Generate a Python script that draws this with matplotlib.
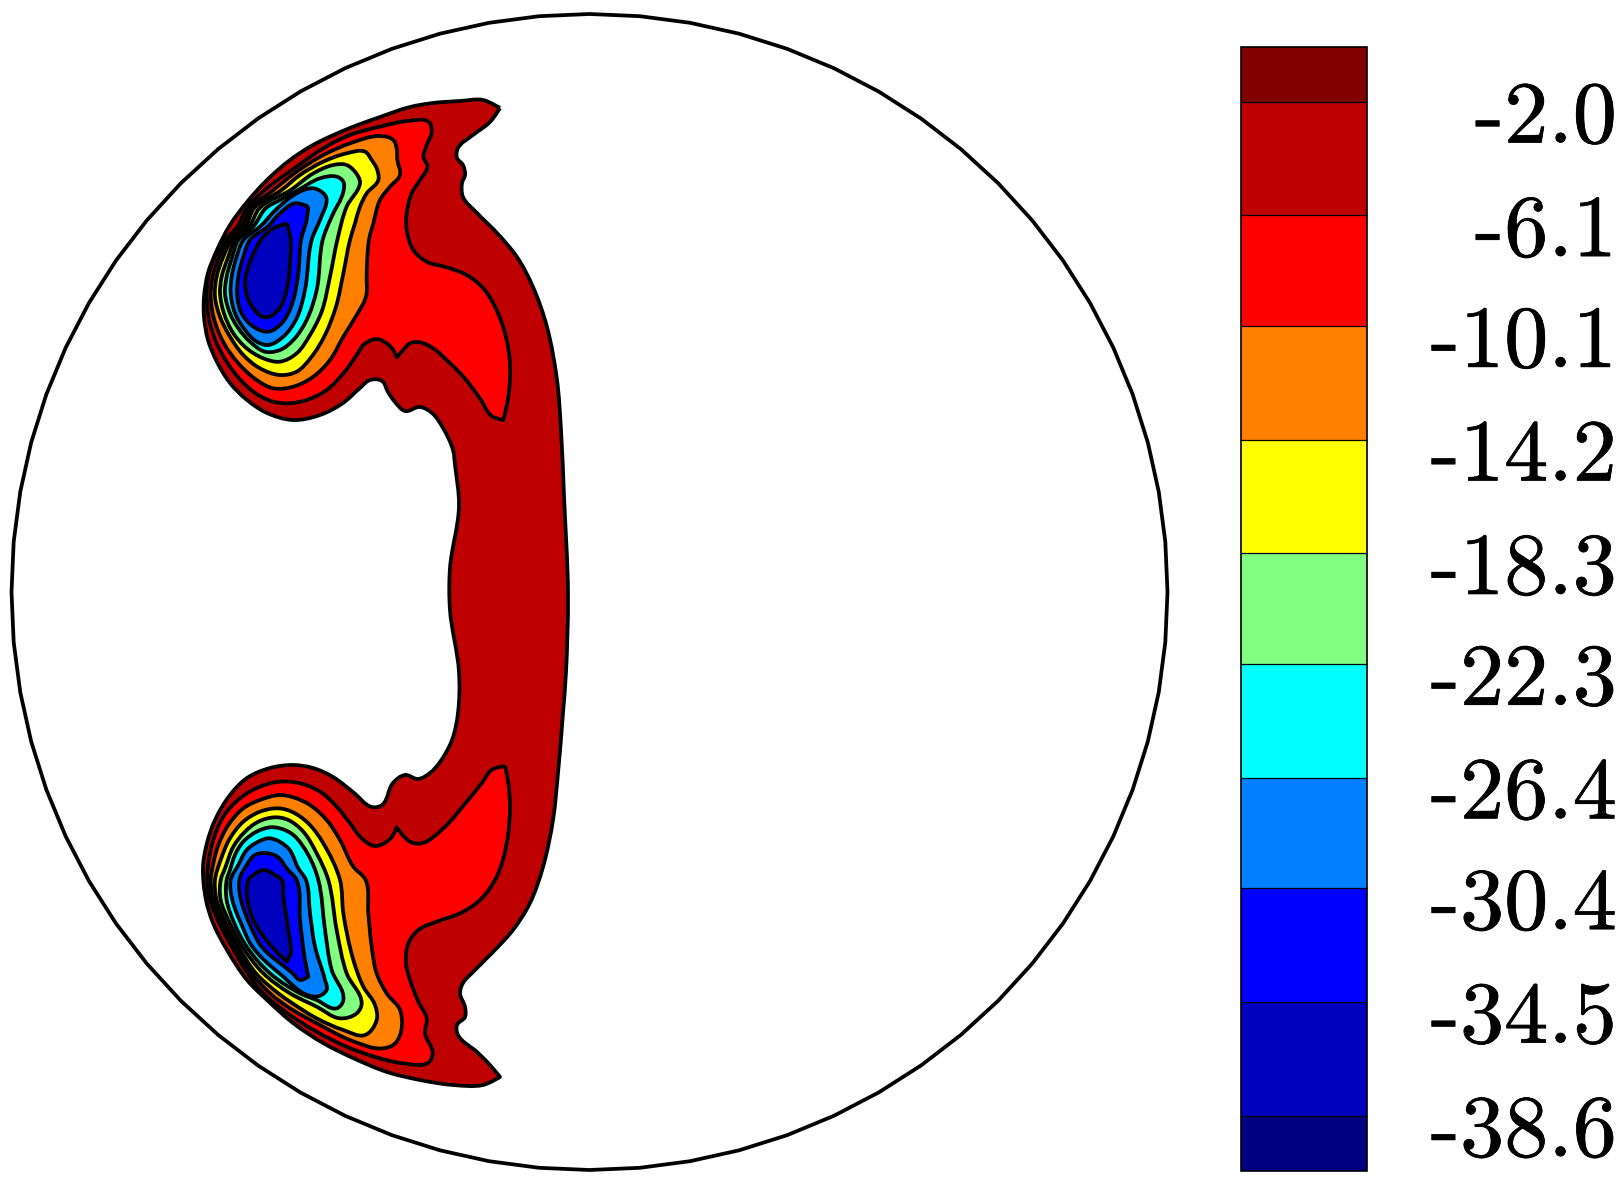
import numpy as np
import matplotlib
matplotlib.use("Agg")
import matplotlib.pyplot as plt
import matplotlib.patheffects as pe
from matplotlib.cm import ScalarMappable
from matplotlib.colors import BoundaryNorm, ListedColormap
from matplotlib.patches import PathPatch, RegularPolygon
from matplotlib.path import Path

# Contour levels and colours, bottom of the colour bar first
levels = [-38.6, -34.5, -30.4, -26.4, -22.3, -18.3, -14.2, -10.1, -6.1, -2.0]
tick_labels = ["-38.6", "-34.5", "-30.4", "-26.4", "-22.3", "-18.3", "-14.2", "-10.1", "-6.1", "-2.0"]
bounds = [-40.6] + levels + [0.0]
colors = ["#000080", "#0000BF", "#0000FF", "#0080FF", "#00FFFF", "#80FF80",
          "#FFFF00", "#FF8000", "#FF0000", "#BF0000", "#800000"]

# Domain, in image pixels
center = (589.5, 592.0)
radius = 578.0

# Outline of the -2.0 contour, image pixels
outer_x = [500, 483, 460, 433, 410, 380, 350, 313, 290, 267, 247, 230, 217, 208, 204, 204, 208, 217, 230, 247, 267,
           293, 320, 343, 360, 370, 382, 388, 395, 405, 420, 432, 443, 453, 455, 459, 450, 450, 459, 458, 452, 440,
           430, 418, 405, 393, 382, 372, 353, 333, 313, 293, 270, 247, 230, 215, 207, 203, 206, 213, 227, 247, 267, 293,
           323, 353, 387, 420, 453, 483, 500, 490, 477, 458, 457, 465, 465, 460, 463, 473, 493, 513, 530, 543, 553, 558,
           563, 566, 568, 564, 561, 557, 547, 533, 517, 497, 477, 463, 462, 465, 463, 457, 458, 473, 490]
outer_y = [108, 100, 101, 103, 107, 117, 128, 145, 160, 180, 202, 225, 250, 273, 297, 317, 340, 362, 383, 400, 413,
           420, 415, 403, 388, 380, 381, 392, 402, 411, 407, 413, 428, 450, 465, 506, 568, 610, 672, 713, 740, 762,
           773, 779, 775, 783, 805, 807, 792, 777, 768, 765, 768, 778, 795, 820, 843, 867, 900, 923, 950, 980, 1000, 1023,
           1043, 1058, 1072, 1080, 1085, 1085, 1077, 1065, 1052, 1035, 1025, 1017, 1007, 993, 983, 972, 952, 930, 903, 867, 820, 773,
           713, 672, 594, 496, 430, 380, 327, 287, 257, 233, 213, 197, 183, 175, 165, 158, 148, 135, 122]

# Inner contours of the upper lobe, -6.1 down to -34.5
top_6_x = [745, 690, 600, 510, 430, 350, 255, 200, 172, 135, 105, 85, 80, 90, 120, 165, 220, 270, 320, 380, 440, 490, 530, 550, 590, 620, 640, 650, 665, 690, 720, 760, 800, 850, 900, 935, 970, 985, 990, 975, 945, 910, 860, 800, 740, 700, 680, 680, 695, 720, 742, 730, 740, 755]
top_6_y = [125, 122, 140, 165, 205, 260, 330, 385, 440, 480, 530, 590, 650, 730, 810, 880, 935, 962, 970, 960, 930, 880, 825, 795, 777, 790, 810, 832, 815, 790, 787, 805, 840, 890, 955, 1008, 1020, 950, 850, 760, 680, 625, 585, 562, 545, 510, 450, 400, 340, 300, 260, 230, 195, 155]
top_10_x = [640, 600, 510, 430, 350, 280, 212, 185, 145, 118, 98, 92, 103, 132, 175, 230, 280, 340, 400, 450, 490, 530, 558, 560, 567, 580, 600, 630, 660, 652, 650]
top_10_y = [180, 168, 190, 225, 275, 330, 385, 440, 480, 530, 590, 650, 720, 790, 850, 900, 925, 920, 890, 840, 770, 705, 650, 580, 480, 430, 360, 320, 285, 240, 205]
top_14_x = [575, 555, 500, 430, 360, 305, 222, 197, 155, 130, 110, 105, 120, 150, 190, 240, 300, 350, 395, 435, 468, 490, 510, 525, 540, 560, 595, 590]
top_14_y = [240, 215, 220, 245, 285, 330, 385, 440, 480, 530, 590, 650, 710, 770, 825, 865, 885, 875, 830, 765, 680, 580, 480, 430, 380, 340, 300, 265]
top_18_x = [535, 500, 460, 400, 332, 238, 208, 165, 145, 125, 120, 132, 160, 200, 250, 300, 350, 390, 425, 450, 472, 500, 540]
top_18_y = [290, 255, 255, 280, 330, 385, 440, 480, 530, 590, 640, 700, 760, 805, 835, 845, 820, 765, 695, 590, 480, 380, 310]
top_22_x = [490, 470, 420, 355, 300, 257, 220, 175, 157, 140, 135, 150, 175, 210, 255, 300, 340, 380, 410, 428, 455, 490]
top_22_y = [305, 290, 295, 330, 360, 385, 440, 480, 530, 590, 640, 700, 745, 785, 815, 810, 780, 720, 630, 480, 410, 335]
top_26_x = [435, 400, 350, 292, 240, 190, 170, 155, 152, 165, 195, 230, 265, 310, 350, 375, 395, 420, 440]
top_26_y = [345, 325, 340, 385, 440, 480, 530, 590, 640, 700, 750, 785, 795, 770, 715, 630, 480, 420, 360]
top_30_x = [385, 345, 300, 263, 210, 190, 175, 172, 185, 220, 265, 305, 335, 355, 363, 380]
top_30_y = [380, 370, 400, 440, 480, 530, 590, 650, 700, 740, 755, 730, 675, 580, 480, 420]
top_34_x = [322, 280, 250, 230, 205, 195, 210, 255, 295, 320, 332, 332]
top_34_y = [430, 445, 470, 500, 560, 610, 670, 712, 690, 630, 520, 480]

# Inner contours of the lower lobe
bot_6_x = [975, 935, 905, 860, 790, 725, 690, 650, 632, 585, 545, 510, 470, 420, 360, 300, 240, 180, 130, 100, 85, 82, 90, 118, 155, 203, 250, 330, 410, 500, 600, 670, 745, 758, 735, 740, 715, 690, 678, 685, 715, 770, 840, 900, 950, 980, 990, 985]
bot_6_y = [78, 90, 130, 185, 265, 310, 305, 262, 295, 318, 295, 250, 200, 155, 130, 125, 140, 175, 230, 300, 370, 420, 480, 550, 620, 700, 760, 825, 875, 920, 955, 970, 968, 940, 880, 835, 785, 720, 670, 610, 570, 545, 520, 480, 410, 310, 200, 130]
bot_10_x = [300, 245, 190, 145, 115, 100, 92, 100, 128, 165, 215, 270, 330, 420, 510, 610, 650, 662, 620, 590, 575, 565, 557, 520, 480, 440, 390, 340]
bot_10_y = [165, 178, 205, 255, 315, 370, 420, 480, 550, 620, 700, 760, 805, 855, 900, 925, 905, 815, 760, 700, 620, 520, 420, 380, 300, 240, 195, 172]
bot_14_x = [295, 240, 190, 150, 122, 105, 110, 138, 175, 228, 295, 330, 410, 490, 555, 590, 585, 550, 520, 490, 480, 430, 385, 335]
bot_14_y = [205, 215, 245, 295, 360, 420, 480, 550, 620, 700, 760, 785, 835, 870, 885, 840, 795, 740, 660, 520, 420, 310, 250, 215]
bot_18_x = [285, 235, 195, 160, 135, 122, 122, 150, 187, 250, 330, 410, 480, 530, 545, 500, 470, 445, 410, 370, 325]
bot_18_y = [232, 245, 275, 320, 385, 420, 480, 550, 620, 700, 760, 800, 835, 820, 790, 700, 570, 420, 340, 275, 240]
bot_22_x = [270, 230, 190, 165, 150, 140, 140, 163, 200, 270, 360, 410, 470, 490, 455, 435, 415, 385, 340, 300]
bot_22_y = [262, 275, 305, 345, 390, 420, 480, 550, 620, 700, 760, 780, 805, 780, 690, 570, 420, 345, 285, 265]
bot_26_x = [270, 235, 200, 175, 152, 157, 183, 217, 298, 405, 440, 435, 405, 390, 378, 355, 325]
bot_26_y = [295, 305, 330, 375, 420, 480, 550, 620, 700, 770, 750, 720, 620, 520, 420, 385, 325]
bot_30_x = [265, 225, 200, 178, 183, 208, 245, 338, 360, 385, 375, 360, 350, 320, 295]
bot_30_y = [340, 345, 375, 420, 480, 550, 620, 700, 720, 710, 660, 540, 420, 385, 352]
bot_34_x = [250, 220, 205, 202, 225, 275, 320, 332, 325, 310, 305, 285]
bot_34_y = [390, 405, 420, 480, 550, 620, 665, 640, 570, 470, 420, 405]

top_contours = [(top_6_x, top_6_y), (top_10_x, top_10_y), (top_14_x, top_14_y), (top_18_x, top_18_y),
                (top_22_x, top_22_y), (top_26_x, top_26_y), (top_30_x, top_30_y), (top_34_x, top_34_y)]
bot_contours = [(bot_6_x, bot_6_y), (bot_10_x, bot_10_y), (bot_14_x, bot_14_y), (bot_18_x, bot_18_y),
                (bot_22_x, bot_22_y), (bot_26_x, bot_26_y), (bot_30_x, bot_30_y), (bot_34_x, bot_34_y)]
fill_colors = ["#FF0000", "#FF8000", "#FFFF00", "#80FF80", "#00FFFF", "#0080FF", "#0000FF", "#0000BF"]

W, H = 1620, 1185
LW = 2.7


def contour_path(x, y):
    # closed curve through the read points, sharp turns stay corners
    p = np.column_stack([x, y]).astype(float)
    prev_d = p - np.roll(p, 1, axis=0)
    next_d = np.roll(p, -1, axis=0) - p
    prev_u = prev_d / np.linalg.norm(prev_d, axis=1, keepdims=True)
    next_u = next_d / np.linalg.norm(next_d, axis=1, keepdims=True)
    tang = prev_u + next_u
    tang = tang / np.maximum(np.linalg.norm(tang, axis=1, keepdims=True), 1e-9)
    tang[np.sum(prev_u * next_u, axis=1) < 0.25] = 0.0
    seg = np.linalg.norm(next_d, axis=1, keepdims=True)
    ctrl1 = p + tang * seg / 3
    ctrl2 = np.roll(p, -1, axis=0) - np.roll(tang, -1, axis=0) * seg / 3
    verts = [p[0]]
    codes = [Path.MOVETO]
    for i in range(len(p)):
        verts += [ctrl1[i], ctrl2[i], p[(i + 1) % len(p)]]
        codes += [Path.CURVE4] * 3
    return Path(verts, codes)


def draw_contour(ax, x, y, color):
    ax.add_patch(PathPatch(contour_path(x, y), facecolor=color, edgecolor="black",
                           linewidth=LW, joinstyle="round"))


fig = plt.figure(figsize=(W / 100, H / 100), dpi=100, facecolor="white")
ax = fig.add_axes([0, 0, 1, 1])
ax.set_xlim(0, W)
ax.set_ylim(H, 0)
ax.axis("off")

ax.add_patch(RegularPolygon(center, numVertices=72, radius=radius, facecolor="none",
                            edgecolor="black", linewidth=LW))

draw_contour(ax, outer_x, outer_y, "#BF0000")

# inner contours were read in crop units (3 per pixel) from the lobe corners
for (cx, cy), col in zip(top_contours, fill_colors):
    draw_contour(ax, 180 + np.array(cx) / 3, 80 + np.array(cy) / 3, col)
for (cx, cy), col in zip(bot_contours, fill_colors):
    draw_contour(ax, 180 + np.array(cx) / 3, 740 + np.array(cy) / 3, col)

# Colour bar
cax = fig.add_axes([1241 / W, 1 - 1171 / H, 126 / W, 1124.5 / H])
norm = BoundaryNorm(bounds, len(colors))
sm = ScalarMappable(norm=norm, cmap=ListedColormap(colors))
cb = fig.colorbar(sm, cax=cax, spacing="proportional", drawedges=True, ticks=[])
cb.dividers.set_linewidth(0.9)
cb.dividers.set_color("black")
cb.outline.set_linewidth(1.2)
cb.minorticks_off()

# labels sit a little below their boundaries
for lev, lab in zip(levels, tick_labels):
    cax.annotate(lab, xy=(1, lev), xycoords=("axes fraction", "data"),
                 xytext=(180, -13), textcoords="offset points", ha="right", va="center",
                 fontsize=63.5, family="cmr10",
                 path_effects=[pe.withStroke(linewidth=0.5, foreground="black")])

fig.savefig("out.png", dpi=100)
